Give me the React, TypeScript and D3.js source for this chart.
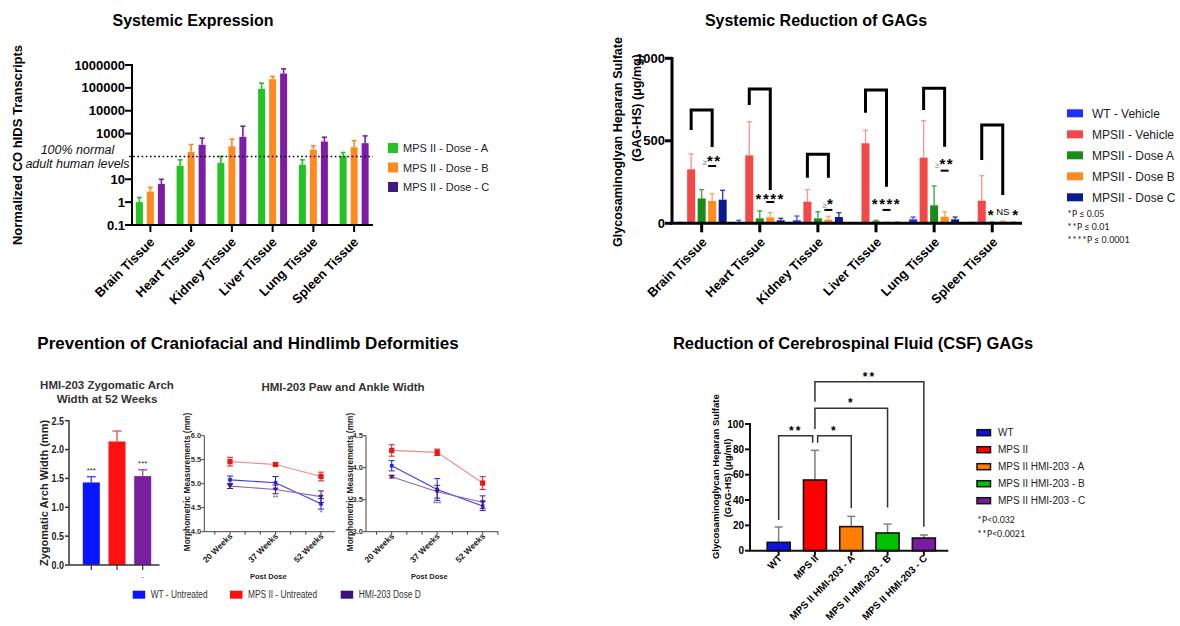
import React from "react";
import * as d3 from "d3";

const FONT = "'Liberation Sans', Arial, Helvetica, sans-serif";
const CAL = "Carlito, 'Liberation Sans', Arial, sans-serif";

// ---------- Panel A: Systemic Expression ----------
const tissues = ["Brain Tissue", "Heart Tissue", "Kidney Tissue", "Liver Tissue", "Lung Tissue", "Spleen Tissue"];
const exprSeriesNames = ["MPS II - Dose - A", "MPS II - Dose - B", "MPS II - Dose - C"];
const exprDoseA = [1, 39, 52, 90000, 43, 106];
const exprDoseAHi = [1.6, 71, 100, 160000, 71, 148];
const exprDoseB = [2.9, 159, 280, 240000, 195, 253];
const exprDoseBHi = [4.4, 331, 570, 315000, 290, 490];
const exprDoseC = [6.3, 321, 720, 425000, 450, 380];
const exprDoseCHi = [10, 630, 2100, 680000, 690, 790];
const exprTickValues = [0.1, 1, 10, 1000, 10000, 100000, 1000000];
const exprTickLabels = ["0.1", "1", "10", "1000", "10000", "100000", "1000000"];
const exprNormalLevel = 100;

// ---------- Panel B: Systemic Reduction of GAGs ----------
const gagSeriesNames = ["WT - Vehicle", "MPSII - Vehicle", "MPSII - Dose A", "MPSII - Dose B", "MPSII - Dose C"];
const gagWT = [3, 5, 18, 2, 24, 3];
const gagWTHi = [5, 18, 44, 4, 38, 5];
const gagMPS = [327, 412, 131, 485, 398, 137];
const gagMPSHi = [420, 616, 204, 564, 622, 289];
const gagDoseA = [151, 30, 30, 12, 109, 6];
const gagDoseAHi = [204, 76, 70, 18, 226, 8];
const gagDoseB = [135, 36, 22, 5, 40, 10];
const gagDoseBHi = [178, 64, 42, 7, 70, 14];
const gagDoseC = [143, 18, 38, 4, 24, 4];
const gagDoseCHi = [200, 30, 64, 6, 38, 6];
const gagTicks = [0, 500, 1000];
const gagBracketTop = [687, 814, 418, 808, 818, 596];
const gagBracketLeftEnd = [565, 717, 276, 670, 687, 384];
const gagBracketRightEnd = [462, 202, 276, 222, 464, 172];
const gagSigPrefix = ["≥", "", "≥", "", "≥", ""];
const gagSigStars = ["**", "****", "*", "****", "**", ""];
const gagSigLevel = [400, 171, 137, 141, 379, 70];
const gagDashLevel = [347, 129, 81, 81, 319, -1];
const gagSpleenMarks = ["*", "NS", "*"];
const gagPLegend = ["*P ≤ 0.05", "**P ≤ 0.01", "****P ≤ 0.0001"];

// ---------- Panel C: Craniofacial / Hindlimb ----------
const deformGroups = ["WT - Untreated", "MPS II - Untreated", "HMI-203 Dose D"];
const zygValues = [1.43, 2.14, 1.54];
const zygErr = [0.1, 0.18, 0.11];
const zygStars = ["***", "", "***"];
const zygTicks = [0, 0.5, 1.0, 1.5, 2.0, 2.5];
const weeks = ["20 Weeks", "37 Weeks", "52 Weeks"];
const pawWT = [5.08, 5.02, 4.58];
const pawWTErr = [0.08, 0.13, 0.11];
const pawMPS = [5.46, 5.4, 5.15];
const pawMPSErr = [0.09, 0.03, 0.09];
const pawDoseD = [4.95, 4.88, 4.73];
const pawDoseDErr = [0.05, 0.09, 0.12];
const pawTicks = [4.0, 4.5, 5.0, 5.5, 6.0];
const pawStars = ["", "**", "*"];
const ankleWT = [4.03, 3.66, 3.4];
const ankleWTErr = [0.08, 0.17, 0.07];
const ankleMPS = [4.27, 4.24, 3.76];
const ankleMPSErr = [0.09, 0.05, 0.1];
const ankleDoseD = [3.86, 3.625, 3.46];
const ankleDoseDErr = [0.02, 0.1, 0.1];
const ankleTicks = [3.0, 3.5, 4.0, 4.5];
const ankleStars = ["", "***", ""];

// ---------- Panel D: CSF GAGs ----------
const csfGroups = ["WT", "MPS II", "MPS II HMI-203 - A", "MPS II HMI-203 - B", "MPS II HMI-203 - C"];
const csfValues = [6.6, 55.8, 19, 14, 10];
const csfErr = [12.1, 23.4, 8.1, 7, 2.4];
const csfTicks = [0, 20, 40, 60, 80, 100];
const csfBracketFrom = ["WT", "MPS II", "MPS II", "MPS II"];
const csfBracketTo = ["MPS II", "MPS II HMI-203 - A", "MPS II HMI-203 - B", "MPS II HMI-203 - C"];
const csfBracketTop = [90.8, 90.8, 112.4, 133.4];
const csfBracketLeftEnd = [24.2, 85.2, 96, 117.6];
const csfBracketRightEnd = [85.2, 33.5, 34, 19];
const csfBracketLabel = ["**", "*", "*", "**"];
const csfPLegend = ["*P<0.032", "**P<0.0021"];

type TP = {
  x: number; y: number; size: number; bold?: boolean; italic?: boolean;
  anchor?: "start" | "middle" | "end"; rotate?: number; sx?: number; fill?: string;
  family?: string; ls?: number; children: React.ReactNode;
};
function T({ x, y, size, bold, italic, anchor = "start", rotate = 0, sx = 1, fill = "#000", family = FONT, ls, children }: TP) {
  let tr = `translate(${x},${y})`;
  if (rotate) tr += ` rotate(${rotate})`;
  if (sx !== 1) tr += ` scale(${sx},1)`;
  return (
    <text transform={tr} fontSize={size} fontWeight={bold ? "bold" : "normal"} fontStyle={italic ? "italic" : "normal"}
      textAnchor={anchor} fill={fill} fontFamily={family} letterSpacing={ls}>{children}</text>
  );
}

function ErrUp({ x, y1, y2, w, color, sw = 1.5 }: { x: number; y1: number; y2: number; w: number; color: string; sw?: number }) {
  return (
    <g stroke={color} strokeWidth={sw}>
      <line x1={x} x2={x} y1={y1} y2={y2} />
      <line x1={x - w / 2} x2={x + w / 2} y1={y2} y2={y2} />
    </g>
  );
}

function PanelExpression() {
  const y = d3.scaleLog().domain([0.1, 1000000]).range([225, 65]);
  const x = d3.scaleBand<string>().domain(tissues).range([130, 374.5]);
  const off = d3.scalePoint<string>().domain(exprSeriesNames).range([-11, 11]);
  const colors = ["#22c322", "#ff8a1f", "#7d1ca6"];
  const legendColors = ["#22c322", "#ff8a1f", "#3f1a80"];
  const vals = [exprDoseA, exprDoseB, exprDoseC];
  const his = [exprDoseAHi, exprDoseBHi, exprDoseCHi];
  const base = y(0.1);
  const ax = 132;
  return (
    <g>
      <T x={193} y={26} size={16} bold anchor="middle">Systemic Expression</T>
      {exprSeriesNames.map((s, si) =>
        tissues.map((t, ti) => {
          const cx = x(t)! + x.bandwidth() / 2 + off(s)!;
          const v = vals[si][ti];
          const h = his[si][ti];
          return (
            <g key={s + t}>
              <ErrUp x={cx} y1={y(v)} y2={y(h)} w={5} color={colors[si]} sw={1.6} />
              <rect x={cx - 3.5} width={7} y={y(v)} height={base - y(v)} fill={colors[si]} />
            </g>
          );
        })
      )}
      <line x1={129} x2={373} y1={y(exprNormalLevel)} y2={y(exprNormalLevel)} stroke="#000" strokeWidth={1.6} strokeDasharray="1.6 2.6" />
      <T x={77.5} y={154} size={12.5} italic anchor="middle" fill="#111">100% normal</T>
      <T x={77.5} y={168} size={12.5} italic anchor="middle" fill="#111">adult human levels</T>
      <line x1={ax} x2={ax} y1={64} y2={base} stroke="#000" strokeWidth={2} />
      <line x1={ax - 1} x2={373} y1={base} y2={base} stroke="#000" strokeWidth={2} />
      {exprTickValues.map((v, i) => (
        <g key={v}>
          <line x1={ax - 7} x2={ax} y1={y(v)} y2={y(v)} stroke="#000" strokeWidth={2} />
          <T x={ax - 7} y={y(v) + 4.5} size={13} bold anchor="end">{exprTickLabels[i]}</T>
        </g>
      ))}
      {tissues.map((t) => {
        const cx = x(t)! + x.bandwidth() / 2;
        return (
          <g key={t}>
            <line x1={cx} x2={cx} y1={base} y2={base + 7} stroke="#000" strokeWidth={2} />
            <T x={cx + 5} y={243} size={13} bold anchor="end" rotate={-45}>{t}</T>
          </g>
        );
      })}
      <T x={21.5} y={145} size={13} bold anchor="middle" rotate={-90}>Normalized CO hIDS Transcripts</T>
      {exprSeriesNames.map((s, i) => {
        const cy = 148 + i * 19.5;
        return (
          <g key={s}>
            <rect x={388} y={cy - 5} width={10} height={10} fill={legendColors[i]} />
            <T x={403} y={cy + 4} size={11} fill="#222">{s}</T>
          </g>
        );
      })}
    </g>
  );
}

function PanelGag() {
  const y = d3.scaleLinear().domain([0, 1000]).range([223.3, 58.3]);
  const x = d3.scaleBand<string>().domain(tissues).range([672.6, 1021.3]);
  const off = d3.scalePoint<string>().domain(gagSeriesNames).range([-21, 21]);
  const colors = ["#1f2fff", "#f24848", "#1a8c1a", "#ff8a1f", "#0b1a8c"];
  const errColors = ["#4a5aff", "#f59a9a", "#45a845", "#ffaa55", "#3040a0"];
  const vals = [gagWT, gagMPS, gagDoseA, gagDoseB, gagDoseC];
  const his = [gagWTHi, gagMPSHi, gagDoseAHi, gagDoseBHi, gagDoseCHi];
  const base = y(0);
  const ax = 672;
  const cxOf = (t: string) => x(t)! + x.bandwidth() / 2;
  return (
    <g>
      <T x={816} y={26} size={16} bold anchor="middle">Systemic Reduction of GAGs</T>
      {gagSeriesNames.map((s, si) =>
        tissues.map((t, ti) => {
          const cx = cxOf(t) + off(s)!;
          const v = vals[si][ti];
          const h = his[si][ti];
          return (
            <g key={s + t}>
              <ErrUp x={cx} y1={y(v)} y2={y(h)} w={5} color={errColors[si]} sw={1.4} />
              <rect x={cx - 4} width={8} y={y(v)} height={base - y(v)} fill={colors[si]} />
            </g>
          );
        })
      )}
      {tissues.map((t, i) => {
        const cx = cxOf(t);
        const xl = cx + off(gagSeriesNames[1])!;
        const xr = cx + off(gagSeriesNames[3])!;
        const stars = y(gagSigLevel[i]) + 8.6;
        return (
          <g key={"br" + t}>
            <path d={`M${xl},${y(gagBracketLeftEnd[i])}V${y(gagBracketTop[i])}H${xr}V${y(gagBracketRightEnd[i])}`}
              fill="none" stroke="#000" strokeWidth={3} />
            {gagSigStars[i] && (
              <text x={xr} y={stars} textAnchor="middle" fontFamily={FONT}>
                {gagSigPrefix[i] && <tspan fontSize={8} fill="#777" dy={-1}>{gagSigPrefix[i]}</tspan>}
                <tspan fontSize={15} fontWeight="bold" letterSpacing={1.5} dy={gagSigPrefix[i] ? 1 : 0}>{gagSigStars[i]}</tspan>
              </text>
            )}
            {gagDashLevel[i] > 0 && (
              <line x1={xr - 4} x2={xr + 4} y1={y(gagDashLevel[i])} y2={y(gagDashLevel[i])} stroke="#000" strokeWidth={2} />
            )}
            {i === tissues.length - 1 &&
              gagSpleenMarks.map((m, k) => {
                const mx = cx + off(gagSeriesNames[2 + k])!;
                return m === "NS" ? (
                  <T key={k} x={mx} y={y(gagSigLevel[i]) + 3.5} size={9.5} anchor="middle">{m}</T>
                ) : (
                  <T key={k} x={mx + (k === 0 ? -1.5 : 2)} y={y(gagSigLevel[i]) + 8.6} size={15} bold anchor="middle">{m}</T>
                );
              })}
          </g>
        );
      })}
      <line x1={ax} x2={ax} y1={57} y2={base} stroke="#000" strokeWidth={3} />
      <line x1={ax - 1.5} x2={1022} y1={base} y2={base} stroke="#000" strokeWidth={3} />
      {gagTicks.map((v) => (
        <g key={v}>
          <line x1={ax - 7} x2={ax} y1={y(v)} y2={y(v)} stroke="#000" strokeWidth={3} />
          <T x={ax - 7} y={y(v) + 4.5} size={13} bold anchor="end">{v}</T>
        </g>
      ))}
      {tissues.map((t) => {
        const cx = cxOf(t);
        return (
          <g key={"xt" + t}>
            <line x1={cx} x2={cx} y1={base} y2={base + 9} stroke="#000" strokeWidth={3} />
            <T x={cx + 6} y={243} size={13} bold anchor="end" rotate={-45}>{t}</T>
          </g>
        );
      })}
      <T x={622} y={142} size={12.5} bold anchor="middle" rotate={-90}>Glycosaminoglyan Heparan Sulfate</T>
      <T x={641} y={108} size={12.5} bold anchor="middle" rotate={-90}>(GAG-HS) (μg/mg)</T>
      {gagSeriesNames.map((s, i) => {
        const cy = 113.3 + i * 21;
        return (
          <g key={s}>
            <rect x={1067} y={cy - 4} width={16} height={8} fill={colors[i]} />
            <T x={1092} y={cy + 4.5} size={12} fill="#222">{s}</T>
          </g>
        );
      })}
      {gagPLegend.map((p, i) => (
        <T key={p} x={1067} y={216.5 + i * 13.3} size={10} family={CAL} fill="#222">{p}</T>
      ))}
    </g>
  );
}

type LineSeries = { vals: number[]; err: number[]; line: string; mark: string; shape: "square" | "small" | "tri" };

function LineChart({ ax, xEnd, top, bottom, domain, ticks, px0, px1, series, stars }: {
  ax: number; xEnd: number; top: number; bottom: number; domain: [number, number]; ticks: number[];
  px0: number; px1: number; series: LineSeries[]; stars: string[];
}) {
  const y = d3.scaleLinear().domain(domain).range([bottom, top]);
  const x = d3.scalePoint<string>().domain(weeks).range([px0, px1]);
  const step = x.step();
  const minor = d3.range(-2, 9).map((j) => px0 + (j * step) / 3).filter((v) => v > ax + 2 && v <= xEnd + 0.5);
  const line = d3.line<number>().x((_, i) => x(weeks[i])!).y((d) => y(d));
  return (
    <g>
      <line x1={ax} x2={ax} y1={top} y2={bottom} stroke="#444" strokeWidth={1} />
      <line x1={ax} x2={xEnd} y1={bottom} y2={bottom} stroke="#444" strokeWidth={1} />
      {ticks.map((t) => (
        <g key={t}>
          <line x1={ax - 3} x2={ax} y1={y(t)} y2={y(t)} stroke="#444" strokeWidth={1} />
          <T x={ax - 3} y={y(t) + 2.6} size={7.5} bold anchor="end" fill="#333">{t.toFixed(1)}</T>
        </g>
      ))}
      {minor.map((m, i) => (
        <line key={i} x1={m} x2={m} y1={bottom} y2={bottom + 3} stroke="#444" strokeWidth={1} />
      ))}
      {weeks.map((w) => (
        <T key={w} x={x(w)! + 3} y={bottom + 5} size={8.3} bold anchor="end" rotate={-45} fill="#222">{w}</T>
      ))}
      {series.map((s, si) => (
        <g key={si}>
          <path d={line(s.vals) || ""} fill="none" stroke={s.line} strokeWidth={1.1} />
          {s.vals.map((v, i) => {
            const cx = x(weeks[i])!;
            return (
              <g key={i} stroke={s.mark} strokeWidth={1}>
                <line x1={cx} x2={cx} y1={y(v - s.err[i])} y2={y(v + s.err[i])} />
                <line x1={cx - 3} x2={cx + 3} y1={y(v - s.err[i])} y2={y(v - s.err[i])} />
                <line x1={cx - 3} x2={cx + 3} y1={y(v + s.err[i])} y2={y(v + s.err[i])} />
              </g>
            );
          })}
          {s.vals.map((v, i) => {
            const cx = x(weeks[i])!;
            const cy = y(v);
            if (s.shape === "tri")
              return <path key={"m" + i} d={`M${cx - 2.8},${cy - 2}L${cx + 2.8},${cy - 2}L${cx},${cy + 2.6}Z`} fill={s.mark} />;
            const r = s.shape === "square" ? 2.6 : 1.8;
            return <rect key={"m" + i} x={cx - r} y={cy - r} width={2 * r} height={2 * r} fill={s.mark} />;
          })}
        </g>
      ))}
      {stars.map((st, i) => {
        if (!st) return null;
        const cx = x(weeks[i])!;
        const lowest = Math.max(...series.map((s) => y(s.vals[i] - s.err[i])));
        return <T key={"st" + i} x={cx} y={lowest + 6} size={7} anchor="middle" fill="#555">{st}</T>;
      })}
    </g>
  );
}

function PanelDeformities() {
  const zy = d3.scaleLinear().domain([0, 2.5]).range([565, 420.7]);
  const zx = d3.scalePoint<string>().domain(deformGroups).range([91.3, 142.7]);
  const colors = ["#0a14ff", "#ff1010", "#7a1f9e"];
  const errColors = ["#4a55ff", "#f06060", "#a060c0"];
  const legendColors = ["#0a14ff", "#ff1010", "#3d1280"];
  const zBase = zy(0);
  const lineColors = [
    { line: "#3a3aff", mark: "#2020ee" },
    { line: "#f08a8a", mark: "#e81818" },
    { line: "#9068b0", mark: "#4a1a7a" },
  ];
  const paw: LineSeries[] = [
    { vals: pawMPS, err: pawMPSErr, line: lineColors[1].line, mark: lineColors[1].mark, shape: "square" },
    { vals: pawWT, err: pawWTErr, line: lineColors[0].line, mark: lineColors[0].mark, shape: "small" },
    { vals: pawDoseD, err: pawDoseDErr, line: lineColors[2].line, mark: lineColors[2].mark, shape: "tri" },
  ];
  const ankle: LineSeries[] = [
    { vals: ankleMPS, err: ankleMPSErr, line: lineColors[1].line, mark: lineColors[1].mark, shape: "square" },
    { vals: ankleWT, err: ankleWTErr, line: lineColors[0].line, mark: lineColors[0].mark, shape: "small" },
    { vals: ankleDoseD, err: ankleDoseDErr, line: lineColors[2].line, mark: lineColors[2].mark, shape: "tri" },
  ];
  return (
    <g>
      <T x={248} y={349} size={17} bold anchor="middle">Prevention of Craniofacial and Hindlimb Deformities</T>
      <T x={107} y={389} size={11.5} bold anchor="middle" fill="#333">HMI-203 Zygomatic Arch</T>
      <T x={107} y={402.5} size={11.5} bold anchor="middle" fill="#333">Width at 52 Weeks</T>
      {deformGroups.map((g, i) => {
        const cx = zx(g)!;
        const v = zygValues[i];
        return (
          <g key={g}>
            <ErrUp x={cx} y1={zy(v)} y2={zy(v + zygErr[i])} w={9} color={errColors[i]} sw={1.5} />
            <rect x={cx - 8.5} width={17} y={zy(v)} height={zBase - zy(v)} fill={colors[i]} />
            {zygStars[i] && <T x={cx} y={zy(v + zygErr[i]) - 4} size={8} anchor="middle" fill="#333">{zygStars[i]}</T>}
            <line x1={cx} x2={cx} y1={zBase} y2={zBase + 5} stroke="#333" strokeWidth={1.2} />
          </g>
        );
      })}
      <T x={zx(deformGroups[2])!} y={579} size={8} anchor="middle" fill="#555">-</T>
      <line x1={69} x2={69} y1={420} y2={zBase} stroke="#333" strokeWidth={1.5} />
      <line x1={69} x2={159.5} y1={zBase} y2={zBase} stroke="#333" strokeWidth={1.5} />
      {zygTicks.map((t) => (
        <g key={t}>
          <line x1={65} x2={69} y1={zy(t)} y2={zy(t)} stroke="#333" strokeWidth={1.5} />
          <T x={64} y={zy(t) + 3.8} size={10.5} bold anchor="end" sx={0.85} fill="#222">{t.toFixed(1)}</T>
        </g>
      ))}
      <T x={48} y={493} size={11} bold anchor="middle" rotate={-90} fill="#222">Zygomatic Arch Width (mm)</T>

      <T x={343} y={391} size={11.5} bold anchor="middle" fill="#333">HMI-203 Paw and Ankle Width</T>
      <LineChart ax={204.3} xEnd={335} top={435.7} bottom={531.7} domain={[4, 6]} ticks={pawTicks} px0={230} px1={321} series={paw} stars={pawStars} />
      <LineChart ax={366} xEnd={498.3} top={435.7} bottom={531.7} domain={[3, 4.5]} ticks={ankleTicks} px0={391.7} px1={482.7} series={ankle} stars={ankleStars} />
      <T x={189.5} y={482} size={8.3} bold anchor="middle" rotate={-90} fill="#222">Morphometric Measurements (mm)</T>
      <T x={353} y={482} size={8.3} bold anchor="middle" rotate={-90} fill="#222">Morphometric Measurements (mm)</T>
      <T x={268.3} y={578.5} size={7.5} bold anchor="middle" fill="#222">Post Dose</T>
      <T x={429.3} y={578.5} size={7.5} bold anchor="middle" fill="#222">Post Dose</T>
      {deformGroups.map((g, i) => {
        const lx = [132.7, 230, 340.7][i];
        return (
          <g key={"lg" + g}>
            <rect x={lx} y={590.7} width={12.5} height={8} fill={legendColors[i]} />
            <T x={lx + 18} y={598.3} size={11} sx={0.76} fill="#333">{g}</T>
          </g>
        );
      })}
    </g>
  );
}

function PanelCSF() {
  const y = d3.scaleLinear().domain([0, 100]).range([550.7, 424]);
  const x = d3.scaleBand<string>().domain(csfGroups).range([760.5, 942]);
  const cxOf = (g: string) => x(g)! + x.bandwidth() / 2;
  const colors = ["#1010e0", "#ff0000", "#ff8000", "#00c000", "#7b1aa0"];
  const base = y(0);
  const ax = 750;
  return (
    <g>
      <T x={853} y={349} size={16.5} bold anchor="middle">Reduction of Cerebrospinal Fluid (CSF) GAGs</T>
      {csfGroups.map((g, i) => {
        const cx = cxOf(g);
        const v = csfValues[i];
        return (
          <g key={g}>
            <ErrUp x={cx} y1={y(v)} y2={y(v + csfErr[i])} w={8} color="#808080" sw={1.5} />
            <rect x={cx - 11.5} width={23} y={y(v)} height={base - y(v)} fill={colors[i]} stroke="#111" strokeWidth={1.6} />
            <line x1={cx} x2={cx} y1={base} y2={base + 5} stroke="#111" strokeWidth={2} />
            <T x={cx + 4} y={559} size={10} bold anchor="end" rotate={-45}>{g}</T>
          </g>
        );
      })}
      {csfBracketFrom.map((f, i) => {
        let xl = cxOf(f);
        let xr = cxOf(csfBracketTo[i]);
        if (i === 0) xr -= 2.3;
        if (i === 1) xl += 2.7;
        return (
          <g key={"b" + i}>
            <path d={`M${xl},${y(csfBracketLeftEnd[i])}V${y(csfBracketTop[i])}H${xr}V${y(csfBracketRightEnd[i])}`}
              fill="none" stroke="#333" strokeWidth={1.5} />
            <T x={(xl + xr) / 2} y={y(csfBracketTop[i]) - 1} size={12} bold anchor="middle" ls={2}>{csfBracketLabel[i]}</T>
          </g>
        );
      })}
      <line x1={ax} x2={ax} y1={423} y2={base} stroke="#111" strokeWidth={2} />
      <line x1={ax - 1} x2={948.3} y1={base} y2={base} stroke="#111" strokeWidth={2} />
      {csfTicks.map((t) => (
        <g key={t}>
          <line x1={ax - 5} x2={ax} y1={y(t)} y2={y(t)} stroke="#111" strokeWidth={2} />
          <T x={ax - 6} y={y(t) + 3.5} size={10} bold anchor="end">{t}</T>
        </g>
      ))}
      <T x={718.5} y={476.7} size={9.5} bold anchor="middle" rotate={-90}>Glycosaminoglycan Heparan Sulfate</T>
      <T x={730.5} y={478} size={9.5} bold anchor="middle" rotate={-90}>(GAG-HS) (μg/ml)</T>
      {csfGroups.map((g, i) => {
        const cy = 432.7 + i * 17;
        return (
          <g key={"lg" + g}>
            <rect x={977} y={cy - 3} width={13.5} height={6} fill={colors[i]} stroke="#111" strokeWidth={1.5} />
            <T x={998} y={cy + 3.6} size={10} fill="#222">{g}</T>
          </g>
        );
      })}
      {csfPLegend.map((p, i) => (
        <T key={p} x={977} y={522.5 + i * 14} size={10} family={CAL} fill="#222">{p}</T>
      ))}
    </g>
  );
}

export default function App() {
  return (
    <svg width={1180} height={626} style={{ position: "absolute", left: 0, top: 0, background: "#fff" }} fontFamily={FONT}>
      <rect width={1180} height={626} fill="#fff" />
      <PanelExpression />
      <PanelGag />
      <PanelDeformities />
      <PanelCSF />
    </svg>
  );
}
